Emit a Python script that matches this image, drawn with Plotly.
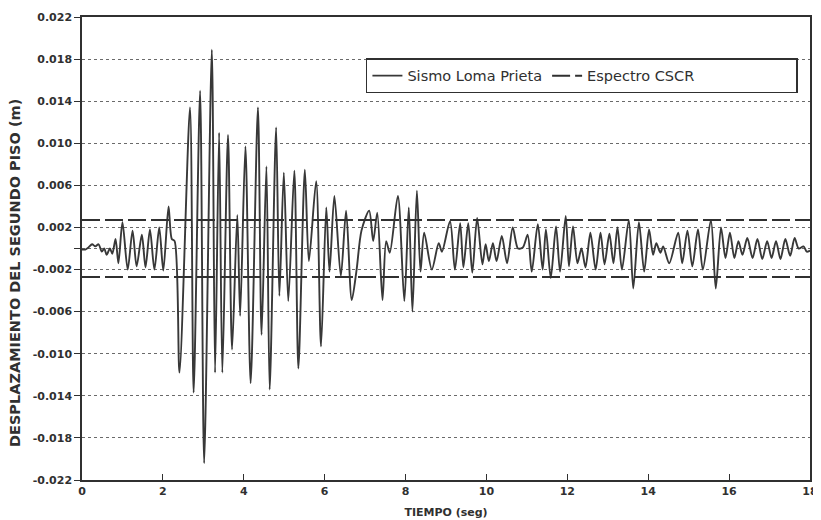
import plotly.graph_objects as go

# --- data ---
t_sismo = [0.00, 0.08, 0.16, 0.25, 0.33, 0.41, 0.49, 0.55, 0.61, 0.69, 0.75, 0.83, 0.90,
           1.00, 1.13, 1.25, 1.35, 1.48, 1.57, 1.68, 1.79, 1.91, 2.01, 2.14, 2.22, 2.29,
           2.41, 2.67, 2.76, 2.92, 3.02, 3.21, 3.29, 3.39, 3.47, 3.61, 3.71, 3.84, 3.91,
           4.04, 4.17, 4.35, 4.44, 4.56, 4.64, 4.80, 4.88, 4.99, 5.10, 5.25, 5.35, 5.51,
           5.61, 5.79, 5.91, 6.04, 6.12, 6.24, 6.40, 6.53, 6.67, 6.79, 6.91, 7.10, 7.20,
           7.30, 7.43, 7.52, 7.61, 7.81, 7.97, 8.08, 8.17, 8.28, 8.37, 8.46, 8.65, 8.82,
           8.90, 9.10, 9.22, 9.35, 9.43, 9.55, 9.65, 9.77, 9.90, 9.98, 10.06, 10.16, 10.25,
           10.38, 10.51, 10.65, 10.78, 10.90, 11.02, 11.12, 11.27, 11.39, 11.47, 11.59,
           11.72, 11.82, 11.96, 12.04, 12.14, 12.25, 12.35, 12.45, 12.57, 12.70, 12.82,
           12.92, 13.04, 13.14, 13.24, 13.35, 13.52, 13.63, 13.77, 13.90, 14.02, 14.12,
           14.20, 14.30, 14.37, 14.52, 14.74, 14.84, 14.97, 15.09, 15.23, 15.35, 15.55,
           15.67, 15.80, 15.91, 16.02, 16.13, 16.23, 16.33, 16.45, 16.58, 16.70, 16.82,
           16.94, 17.05, 17.16, 17.27, 17.39, 17.51, 17.62, 17.72, 17.84, 17.92, 18.00]
d_sismo_mm = [-0.1, -0.1, 0.1, 0.4, 0.2, 0.4, -0.3, 0.0, -0.6, 0.0, -0.5, 0.9, -1.4,
              2.5, -2.0, 1.7, -1.7, 1.3, -1.8, 1.8, -2.0, 2.0, -2.1, 4.0, 0.9, 0.7,
              -11.8, 13.4, -13.7, 15.0, -20.4, 18.9, -11.8, 11.0, -11.8, 10.8, -9.6, 3.2, -6.4,
              9.7, -12.8, 13.4, -8.2, 7.8, -13.4, 11.5, -4.5, 7.2, -5.0, 7.4, -11.4, 7.5,
              -1.2, 6.4, -9.3, 3.9, -2.2, 5.0, -2.6, 3.6, -4.9, -2.0, 1.7, 3.6, 0.7,
              3.4, -4.9, 0.7, -0.4, 5.0, -5.0, 3.9, -6.0, 5.5, -2.2, 1.5, -2.0, 0.5,
              -0.3, 2.6, -2.0, 2.4, -1.8, 2.4, -2.3, 2.9, -1.5, 0.4, -1.2, 0.5, -1.2,
              1.2, -1.4, 2.0, 0.0, 0.1, 1.3, -2.2, 2.3, -2.0, 1.8, -2.8,
              2.1, -2.2, 3.1, -1.7, 2.1, -1.4, 0.0, -1.8, 1.5, -2.0, 1.5,
              -1.5, 1.4, -1.4, 2.0, -2.0, 2.7, -3.8, 2.5, -2.2, 1.8, -0.6,
              0.5, -0.4, 0.2, -1.4, 1.5, -1.4, 1.7, -1.7, 1.8, -2.0, 2.7,
              -3.8, 2.0, -0.9, 1.5, -0.9, 0.7, -0.6, 1.0, -0.9, 0.9, -1.0,
              0.7, -0.9, 0.7, -1.0, 0.9, -0.7, 1.0, 0.0, 0.2, -0.3, -0.2]
d_sismo = [v / 1000.0 for v in d_sismo_mm]

espectro_limite = 0.0027
t_espectro = [0, 18]

y_tickvals = [0.022, 0.018, 0.014, 0.010, 0.006, 0.002, 0.0, -0.002, -0.006, -0.010, -0.014, -0.018, -0.022]
y_ticktext = ["0.022", "0.018", "0.014", "0.010", "0.006", "0.002", "", "-0.002", "-0.006", "-0.010", "-0.014", "-0.018", "-0.022"]
x_tickvals = [0, 2, 4, 6, 8, 10, 12, 14, 16, 18]

ink = "#303030"
font_family = "DejaVu Sans"

fig = go.Figure()
fig.add_trace(go.Scatter(
    x=t_sismo, y=d_sismo, mode="lines", name="Sismo Loma Prieta",
    line=dict(color="#383838", width=1.9, shape="spline", smoothing=0.8),
))
fig.add_trace(go.Scatter(
    x=t_espectro + [None] + t_espectro,
    y=[espectro_limite, espectro_limite, None, -espectro_limite, -espectro_limite],
    mode="lines", name="Espectro CSCR" + "\u00a0" * 21,
    line=dict(color=ink, width=2, dash="18px,5px"),
))

# the page body adds an 8px offset; the figure is sized to fit the 821x520 window
fig.update_layout(
    width=813, height=512,
    margin=dict(l=74, r=11, t=9, b=40),
    paper_bgcolor="white", plot_bgcolor="white",
    font=dict(family=font_family, color=ink),
    showlegend=True,
    legend=dict(
        orientation="h", x=0.39, y=0.911, xanchor="left", yanchor="top",
        bordercolor=ink, borderwidth=1.5, bgcolor="white",
        font=dict(size=14.5, family=font_family, color=ink),
    ),
    annotations=[dict(
        text="DESPLAZAMIENTO DEL SEGUNDO PISO (m)", textangle=-90,
        xref="paper", yref="paper", x=-0.092, y=0.447,
        xanchor="center", yanchor="middle", showarrow=False,
        font=dict(size=14.5, family=font_family, color=ink, weight="bold"),
    )],
)
fig.update_xaxes(
    range=[0, 18], tickvals=x_tickvals, automargin=False,
    ticks="inside", ticklen=6, tickwidth=1.2, tickcolor=ink,
    showline=True, linecolor=ink, linewidth=1.5, mirror=True,
    showgrid=False, zeroline=False,
    tickfont=dict(size=11, family=font_family, color=ink, weight="bold"),
    title=dict(text="TIEMPO (seg)", standoff=11,
               font=dict(size=11, family=font_family, color=ink, weight="bold")),
)
fig.update_yaxes(
    range=[-0.022, 0.022], tickvals=y_tickvals, ticktext=y_ticktext, automargin=False,
    ticks="outside", ticklen=6, tickwidth=1.2, tickcolor=ink,
    showline=True, linecolor=ink, linewidth=1.5, mirror=True,
    showgrid=True, gridcolor="#6a6a6a", gridwidth=1, griddash="dot",
    zeroline=False,
    tickfont=dict(size=11, family=font_family, color=ink, weight="bold"),
)

fig.write_html("out.html")
